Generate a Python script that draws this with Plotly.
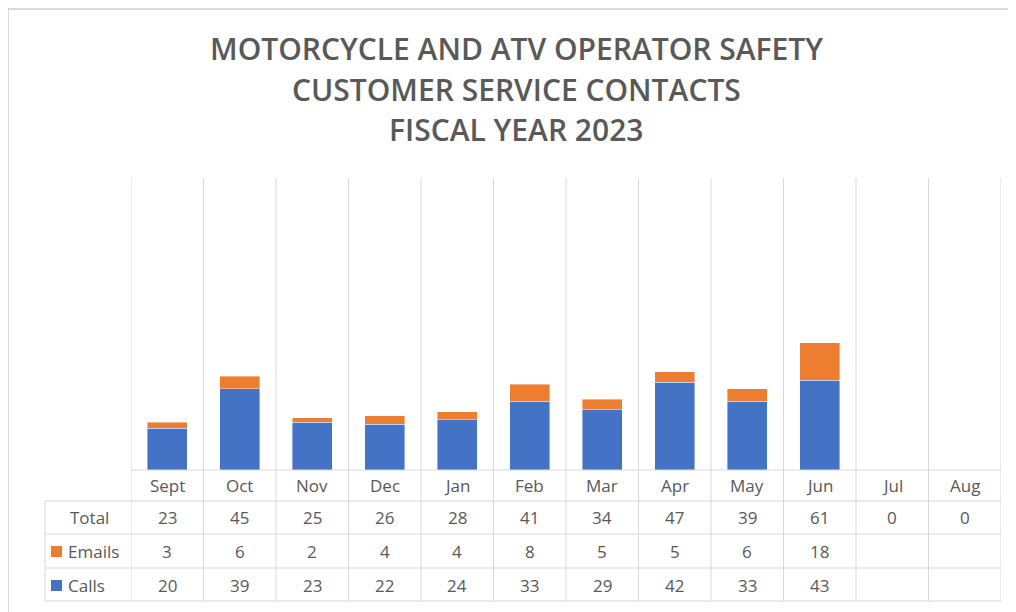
import plotly.graph_objects as go

# ---- data ----
months = ["Sept", "Oct", "Nov", "Dec", "Jan", "Feb", "Mar", "Apr", "May", "Jun", "Jul", "Aug"]
calls = [20, 39, 23, 22, 24, 33, 29, 42, 33, 43, None, None]
emails = [3, 6, 2, 4, 4, 8, 5, 5, 6, 18, None, None]
totals = [23, 45, 25, 26, 28, 41, 34, 47, 39, 61, 0, 0]
title_lines = ["MOTORCYCLE AND ATV OPERATOR SAFETY", "CUSTOMER SERVICE CONTACTS", "FISCAL YEAR 2023"]

BLUE = "#4472C4"
ORANGE = "#ED7D31"
TXT = "#595959"
GRID = "#D9D9D9"
FONT = "Open Sans"

OFF = 8  # page body margin
W, H = 1016 - OFF, 612 - OFF
# plot area in screen pixels
L, R, T, B = 131, 1001, 178, 470


def px(x):
    return (x - L) / (R - L)


def py(y):
    return (B - y) / (B - T)


fig = go.Figure()
fig.add_trace(go.Bar(x=months, y=calls, name="Calls",
                     marker=dict(color=BLUE, line=dict(width=0.6, color="rgba(255,255,255,0.7)"))))
fig.add_trace(go.Bar(x=months, y=emails, name="Emails",
                     marker=dict(color=ORANGE, line=dict(width=0.6, color="rgba(255,255,255,0.7)"))))

shapes = []
annotations = []

# outer chart border
shapes.append(dict(type="rect", xref="paper", yref="paper", x0=px(8), x1=px(1040), y0=py(640), y1=py(9),
                   line=dict(color="#D0D0D0", width=1.5), fillcolor="rgba(0,0,0,0)", layer="below"))

# vertical category boundary lines (plot + table)
n = len(months)
for i in range(n + 1):
    shapes.append(dict(type="line", xref="x", yref="paper", x0=i - 0.5, x1=i - 0.5, y0=py(601), y1=1,
                       line=dict(color=GRID, width=1), layer="below"))

# horizontal table lines
shapes.append(dict(type="line", xref="paper", yref="paper", x0=0, x1=1, y0=0, y1=0,
                   line=dict(color=GRID, width=1)))
for yy in [501, 534, 568, 601]:
    shapes.append(dict(type="line", xref="paper", yref="paper", x0=px(45), x1=1, y0=py(yy), y1=py(yy),
                       line=dict(color=GRID, width=1)))
shapes.append(dict(type="line", xref="paper", yref="paper", x0=px(45), x1=px(45), y0=py(501), y1=py(601),
                   line=dict(color=GRID, width=1)))

# legend keys
for yc, col in [(551, ORANGE), (585, BLUE)]:
    shapes.append(dict(type="rect", xref="paper", yref="paper", x0=px(51), x1=px(62), y0=py(yc + 6), y1=py(yc - 5),
                       line=dict(width=0), fillcolor=col))

# table text
fnt = dict(family=FONT, size=17, color=TXT)
row_y = {"head": 485, "Total": 517, "Emails": 551, "Calls": 585}


def cell(i, txt, yc):
    annotations.append(dict(x=i, y=py(yc), xref="x", yref="paper", text=txt, showarrow=False,
                            xanchor="center", yanchor="middle", font=fnt))


for i, m in enumerate(months):
    cell(i, m, row_y["head"])
    cell(i, str(totals[i]), row_y["Total"])
    if emails[i] is not None:
        cell(i, str(emails[i]), row_y["Emails"])
    if calls[i] is not None:
        cell(i, str(calls[i]), row_y["Calls"])

annotations.append(dict(x=px(89), y=py(row_y["Total"]), xref="paper", yref="paper", text="Total",
                        showarrow=False, xanchor="center", yanchor="middle", font=fnt))
annotations.append(dict(x=px(66), y=py(row_y["Emails"]), xref="paper", yref="paper", text="Emails",
                        showarrow=False, xanchor="left", yanchor="middle", font=fnt))
annotations.append(dict(x=px(66), y=py(row_y["Calls"]), xref="paper", yref="paper", text="Calls",
                        showarrow=False, xanchor="left", yanchor="middle", font=fnt))

# title
for line, yc in zip(title_lines, [48, 89, 129]):
    annotations.append(dict(x=px(516), y=py(yc), xref="paper", yref="paper", text=line,
                            showarrow=False, xanchor="center", yanchor="middle",
                            font=dict(family=FONT, size=30, color=TXT, weight=600)))

fig.update_layout(
    width=W, height=H,
    margin=dict(l=L - OFF, r=W - (R - OFF), t=T - OFF, b=H - (B - OFF), pad=0),
    barmode="stack", bargap=0.45,
    showlegend=False,
    plot_bgcolor="white", paper_bgcolor="white",
    xaxis=dict(type="category", range=[-0.5, n - 0.5], showgrid=False, showticklabels=False, ticks="",
               showline=False, zeroline=False, fixedrange=True),
    yaxis=dict(range=[0, 140], showgrid=False, showticklabels=False, ticks="", showline=False,
               zeroline=False),
    shapes=shapes,
    annotations=annotations,
)

fig.write_html("out.html")
